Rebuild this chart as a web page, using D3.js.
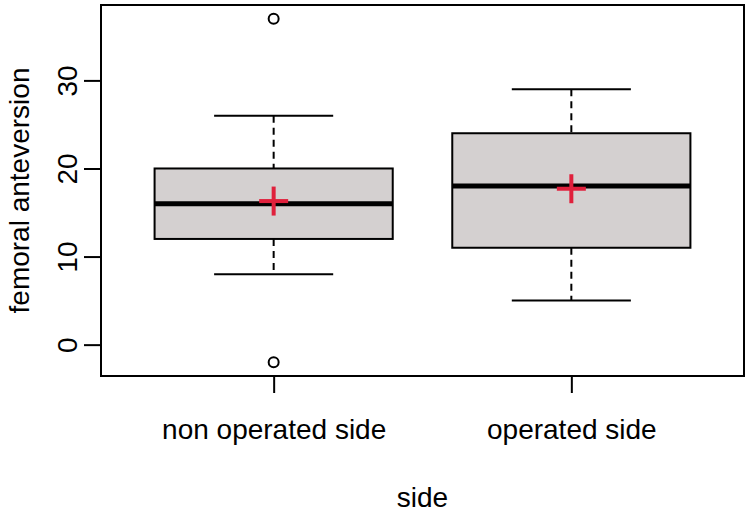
<!DOCTYPE html>
<html>
<head>
<meta charset="utf-8">
<script src="https://cdn.jsdelivr.net/npm/d3@7"></script>
<style>
  html, body { margin: 0; padding: 0; background: #fff; }
  svg { display: block; }
  text { font-family: "Liberation Sans", Arial, sans-serif; fill: #000; }
</style>
</head>
<body>
<svg id="chart" width="750" height="512"></svg>
<script>
// ---- data ----
const categories = ["non operated side", "operated side"];
const lowerWhisker = [8, 5];
const q1 = [12, 11];
const median = [16, 18];
const q3 = [20, 24];
const upperWhisker = [26, 29];
const means = [16.3, 17.7];
const outliers = [[37, -2], []];
const yTicks = [0, 10, 20, 30];
const xTitle = "side";
const yTitle = "femoral anteversion";

// ---- layout ----
const svg = d3.select("#chart");
const plot = { left: 101, right: 744, top: 5, bottom: 376 };

const x = d3.scaleLinear().domain([0.42, 2.58]).range([plot.left, plot.right]);
const y = d3.scaleLinear().domain([-3.56, 38.56]).range([plot.bottom, plot.top]);

const boxW = 0.8, capW = 0.4;
const g = svg.append("g");

categories.forEach((c, i) => {
  const cx = x(i + 1);
  // whiskers (dashed)
  g.append("line").attr("x1", cx).attr("x2", cx)
    .attr("y1", y(upperWhisker[i])).attr("y2", y(q3[i]))
    .attr("stroke", "#000").attr("stroke-width", 2).attr("stroke-dasharray", "7,5");
  g.append("line").attr("x1", cx).attr("x2", cx)
    .attr("y1", y(q1[i])).attr("y2", y(lowerWhisker[i]))
    .attr("stroke", "#000").attr("stroke-width", 2).attr("stroke-dasharray", "7,5");
  // caps
  [upperWhisker[i], lowerWhisker[i]].forEach(v => {
    g.append("line")
      .attr("x1", x(i + 1 - capW / 2)).attr("x2", x(i + 1 + capW / 2))
      .attr("y1", y(v)).attr("y2", y(v))
      .attr("stroke", "#000").attr("stroke-width", 2);
  });
  // box
  g.append("rect")
    .attr("x", x(i + 1 - boxW / 2)).attr("width", x(i + 1 + boxW / 2) - x(i + 1 - boxW / 2))
    .attr("y", y(q3[i])).attr("height", y(q1[i]) - y(q3[i]))
    .attr("fill", "#d4d0d0").attr("stroke", "#000").attr("stroke-width", 2);
  // median
  g.append("line")
    .attr("x1", x(i + 1 - boxW / 2)).attr("x2", x(i + 1 + boxW / 2))
    .attr("y1", y(median[i])).attr("y2", y(median[i]))
    .attr("stroke", "#000").attr("stroke-width", 5);
  // outliers
  outliers[i].forEach(v => {
    g.append("circle").attr("cx", cx).attr("cy", y(v)).attr("r", 5)
      .attr("fill", "none").attr("stroke", "#000").attr("stroke-width", 2);
  });
  // mean cross
  const my = y(means[i]), s = 14.5;
  g.append("line").attr("x1", cx - s).attr("x2", cx + s).attr("y1", my).attr("y2", my)
    .attr("stroke", "#e0203c").attr("stroke-width", 4);
  g.append("line").attr("x1", cx).attr("x2", cx).attr("y1", my - s).attr("y2", my + s)
    .attr("stroke", "#e0203c").attr("stroke-width", 4);
});

// frame
svg.append("rect")
  .attr("x", plot.left).attr("y", plot.top)
  .attr("width", plot.right - plot.left).attr("height", plot.bottom - plot.top)
  .attr("fill", "none").attr("stroke", "#000").attr("stroke-width", 2);

// y axis
const yAxis = svg.append("g").attr("transform", `translate(${plot.left},0)`)
  .call(d3.axisLeft(y).tickValues(yTicks).tickSize(17).tickFormat(d3.format("d")));
yAxis.select(".domain").remove();
yAxis.selectAll(".tick line").attr("stroke", "#000").attr("stroke-width", 2);
yAxis.selectAll(".tick text")
  .attr("x", null).attr("dy", null)
  .attr("text-anchor", "middle")
  .attr("font-size", 28)
  .attr("transform", "translate(-24,0) rotate(-90)");

// x axis
const xAxis = svg.append("g").attr("transform", `translate(0,${plot.bottom})`)
  .call(d3.axisBottom(x).tickValues([1, 2]).tickSize(17).tickFormat(d => categories[d - 1]));
xAxis.select(".domain").remove();
xAxis.selectAll(".tick line").attr("stroke", "#000").attr("stroke-width", 2);
xAxis.selectAll(".tick text")
  .attr("y", 63).attr("dy", null)
  .attr("font-size", 28);

// titles
svg.append("text")
  .attr("x", (plot.left + plot.right) / 2).attr("y", 507)
  .attr("text-anchor", "middle").attr("font-size", 28).text(xTitle);
svg.append("text")
  .attr("transform", `translate(29,${(plot.top + plot.bottom) / 2}) rotate(-90)`)
  .attr("text-anchor", "middle").attr("font-size", 28).text(yTitle);
</script>
</body>
</html>
